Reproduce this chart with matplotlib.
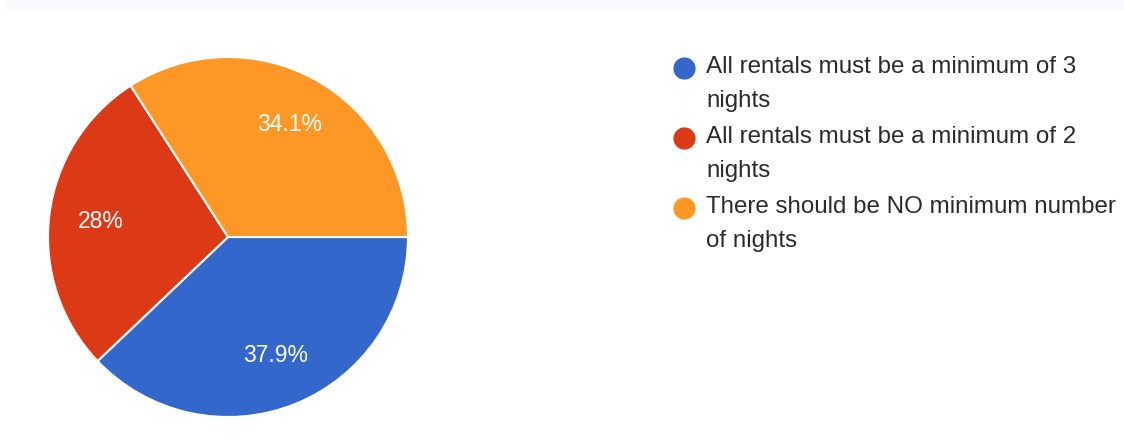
import matplotlib
matplotlib.use("Agg")
import matplotlib.pyplot as plt
from matplotlib.lines import Line2D
from matplotlib.patches import Rectangle

plt.rcParams["font.family"] = ["Liberation Sans", "DejaVu Sans"]

# survey answers, in drawing order (clockwise from 3 o'clock)
answers = [
    "All rentals must be a minimum of 3\nnights",
    "All rentals must be a minimum of 2\nnights",
    "There should be NO minimum number\nof nights",
]
shares = [37.9, 28.0, 34.1]
colors = ["#3467cc", "#dc3a16", "#fd9826"]

W, H = 1124, 441
fig = plt.figure(figsize=(W / 100, H / 100), dpi=100)

# light strip along the top edge
fig.add_artist(Rectangle((6 / W, 1 - 10 / H), 1 - 6 / W, 10 / H,
                         transform=fig.transFigure, color="#f8f9fa", lw=0))

# pie: centre (228, 237) px, radius 180 px
cx, cy, r = 228, 237, 180
pad = 1.05
ax = fig.add_axes([(cx - r * pad) / W, (H - cy - r * pad) / H,
                   2 * r * pad / W, 2 * r * pad / H])
wedges, texts, autotexts = ax.pie(
    shares, colors=colors, startangle=0, counterclock=False, radius=1,
    autopct=lambda p: f"{round(p, 1):g}%", pctdistance=0.71,
    wedgeprops=dict(edgecolor="white", linewidth=1.5),
    textprops=dict(color="white", fontsize=16.5),
)
ax.set_xlim(-pad, pad)
ax.set_ylim(-pad, pad)
ax.set_aspect("equal")
ax.axis("off")

# legend drawn by hand so the dot sits on the first line
for i, (label, col) in enumerate(zip(answers, colors)):
    y0 = 68 + 70 * i
    fig.add_artist(Line2D([684 / W], [1 - y0 / H], marker="o", markersize=15,
                          color=col, transform=fig.transFigure))
    for j, line in enumerate(label.split("\n")):
        base = 73 + 70 * i + 34 * j
        fig.text(706 / W, 1 - base / H, line, fontsize=17.4,
                 color="#2b2b2b", va="baseline", ha="left")

fig.savefig("out.png", dpi=100)
